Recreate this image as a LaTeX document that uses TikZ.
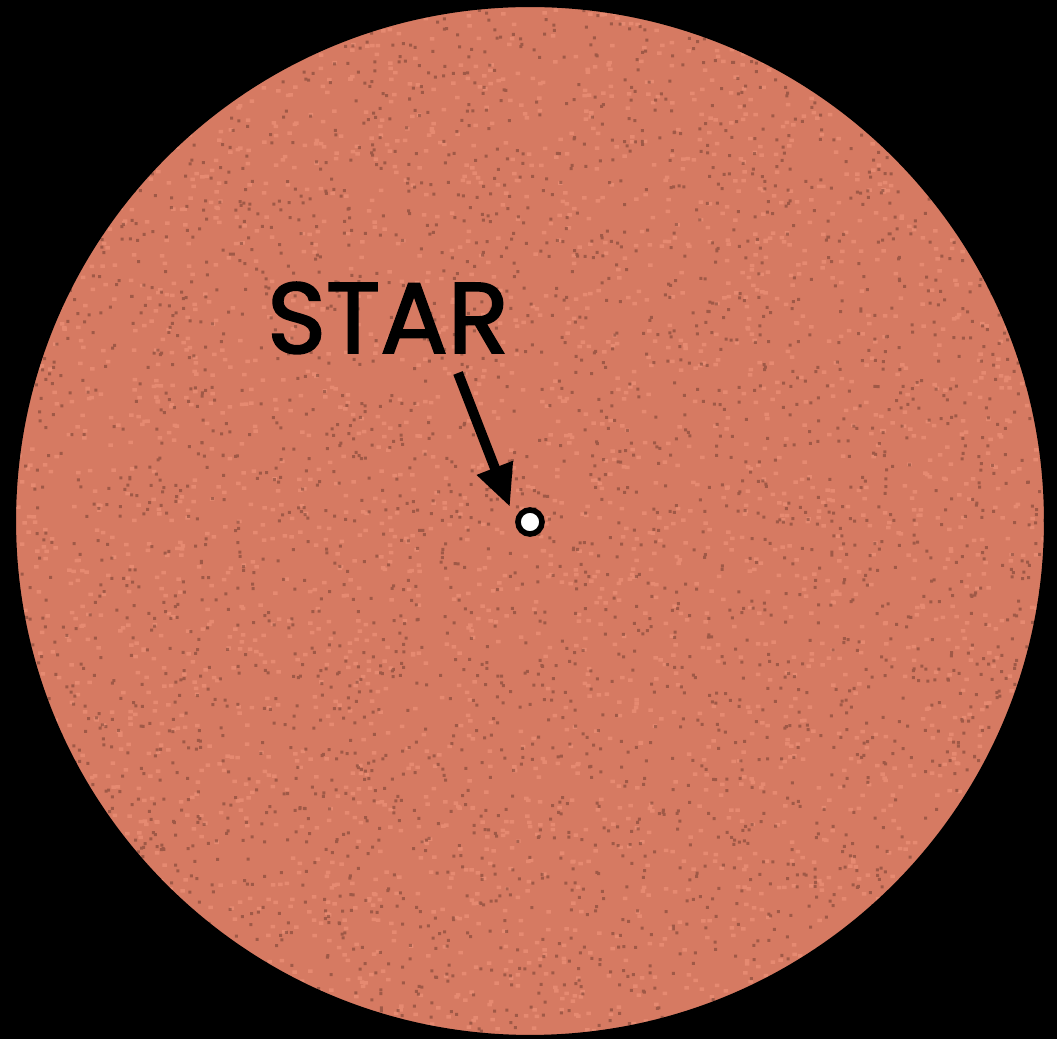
\documentclass[tikz,border=0pt]{standalone}
\usepackage{xcolor}
\usepackage{fontspec}
\setsansfont{Poppins}[FakeBold=2]
\definecolor{starColor}{HTML}{D67A62}
\definecolor{grainColor}{HTML}{5E3327}
\definecolor{glintColor}{HTML}{F2957C}
\usepackage{tikz}
\usetikzlibrary{arrows.meta, positioning, calc}

\begin{document}
\begin{tikzpicture}[font=\sffamily, >=Stealth, x=0.01cm, y=0.01cm]
        % Background and disc
        \fill[black] (0,0) rectangle (1057,1039);
        \useasboundingbox (0,0) rectangle (1057,1039);
        \fill[starColor] (530,518) circle (515);
        \begin{scope}
            \clip (530,518) circle (515);
            \pgfmathsetseed{7}
            \fill[glintColor, opacity=0.6] \foreach \i in {1,...,3000} {(15+1030*rnd, 3+1030*rnd) rectangle ++(4.5,3.5)};
            \fill[grainColor, opacity=0.45] \foreach \i in {1,...,3500} {(15+1030*rnd, 3+1030*rnd) rectangle ++(3,3)};
        \end{scope}
        \draw[black, line width=0.6pt] (530,518) circle (515);

        % Nodes
        \node[circle, draw=black, line width=1.6pt, fill=white, minimum size=0.24cm, inner sep=0pt] (star) at (530,517) {};
        \node[anchor=base, inner sep=0pt, font=\sffamily\fontsize{28.5}{30}\selectfont] (label) at (388,686) {STAR};
        \coordinate (tail) at (458,666);

        % Paths
        \draw[-{Triangle[length=0.42cm, width=0.36cm]}, line width=0.1cm, black] (tail) -- ([shift={(-20,15)}]star.center);
    \end{tikzpicture}
\end{document}
